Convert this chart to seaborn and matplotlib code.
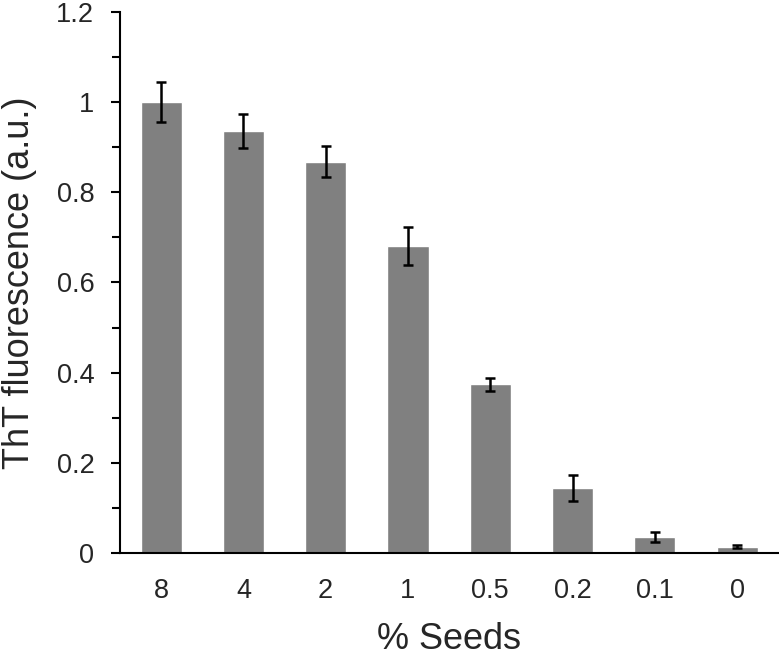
import matplotlib
matplotlib.use("Agg")
import matplotlib.pyplot as plt
import seaborn as sns
import pandas as pd
from matplotlib.ticker import MultipleLocator

seeds = ["8", "4", "2", "1", "0.5", "0.2", "0.1", "0"]
fluorescence = [1.0, 0.936, 0.868, 0.680, 0.374, 0.144, 0.035, 0.014]
errors = [0.045, 0.037, 0.035, 0.042, 0.015, 0.028, 0.011, 0.004]

sns.set_theme(style="white")
plt.rcParams["font.family"] = ["Liberation Sans", "DejaVu Sans"]

df = pd.DataFrame({"seeds": seeds, "fluor": fluorescence})

fig = plt.figure(figsize=(7.79, 6.58), dpi=100)
ax = fig.add_axes([0.154, 0.1596, 0.845, 0.8222])

sns.barplot(data=df, x="seeds", y="fluor", order=seeds, color="#808080",
            saturation=1, width=0.5, errorbar=None, ax=ax)
ax.errorbar(range(len(seeds)), fluorescence, yerr=errors, fmt="none",
            ecolor="black", elinewidth=1.8, capsize=3.3, capthick=1.8)

ax.set_xlim(-0.5, len(seeds) - 0.5)
ax.set_ylim(0, 1.2)
ax.yaxis.set_major_locator(MultipleLocator(0.2))
ax.yaxis.set_minor_locator(MultipleLocator(0.1))
ax.set_yticks([0, 0.2, 0.4, 0.6, 0.8, 1.0, 1.2])
ax.set_yticklabels(["0", "0.2", "0.4", "0.6", "0.8", "1", "1.2"])

for s in ["top", "right"]:
    ax.spines[s].set_visible(False)
for s in ["left", "bottom"]:
    ax.spines[s].set_color("black")
    ax.spines[s].set_linewidth(1.5)

ax.tick_params(axis="y", which="major", direction="out", length=6.5, width=1.5,
               color="black", labelsize=19.5, pad=12, left=True)
ax.tick_params(axis="y", which="minor", direction="out", length=6, width=1.5,
               color="black", left=True)
ax.tick_params(axis="x", length=0, labelsize=19.5, pad=18)

ax.set_xlabel("% Seeds", fontsize=26, labelpad=13)
ax.set_ylabel("ThT fluorescence (a.u.)", fontsize=26, labelpad=14)

fig.savefig("out.png", dpi=100)
